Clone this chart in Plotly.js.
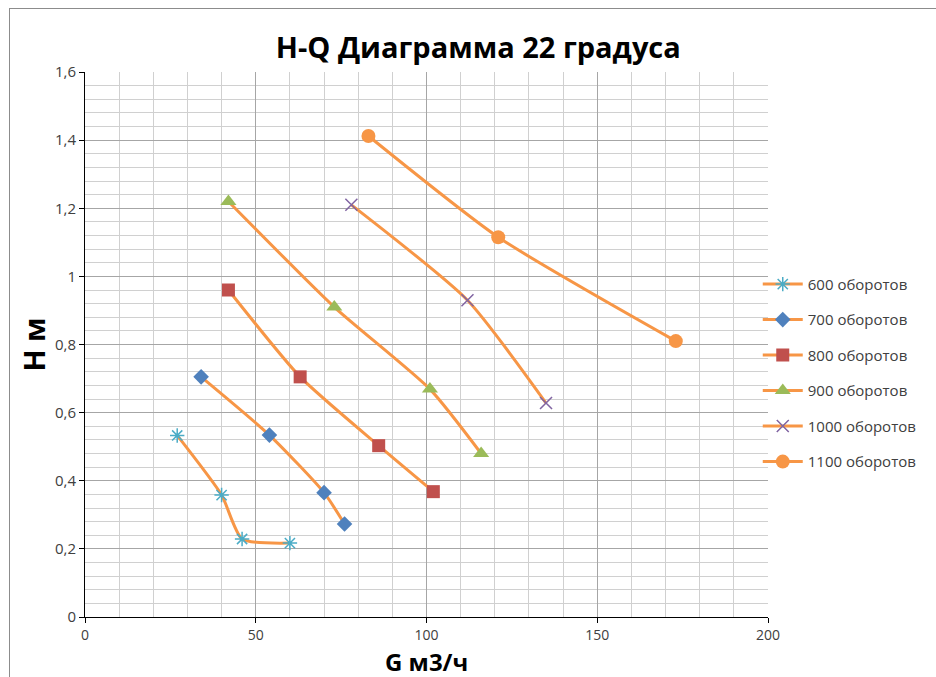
<!DOCTYPE html>
<html><head><meta charset="utf-8">
<script src="https://cdn.plot.ly/plotly-3.0.1.min.js"></script>
<style>
html,body{margin:0;padding:0;background:#fff;}
#wrap{position:relative;width:936px;height:677px;overflow:hidden;}
#frame{position:absolute;left:9px;top:8px;width:1000px;height:1000px;border:1px solid #8c8c8c;box-sizing:border-box;pointer-events:none;}
#chart{position:absolute;left:0;top:0;width:936px;height:677px;}
</style></head>
<body><div id="wrap"><div id="chart"></div><div id="frame"></div></div>
<script>
const seriesNames = ["600 оборотов","700 оборотов","800 оборотов","900 оборотов","1000 оборотов","1100 оборотов"];
const g600 = [27, 40, 46, 60];
const h600 = [0.533, 0.358, 0.229, 0.217];
const g700 = [34, 54, 70, 76];
const h700 = [0.705, 0.534, 0.365, 0.273];
const g800 = [42, 63, 86, 102];
const h800 = [0.96, 0.705, 0.503, 0.368];
const g900 = [42, 73, 101, 116];
const h900 = [1.22, 0.91, 0.669, 0.48];
const g1000 = [78, 112, 135];
const h1000 = [1.21, 0.93, 0.628];
const g1100 = [83, 121, 173];
const h1100 = [1.412, 1.115, 0.81];
const xTicks = [0, 50, 100, 150, 200];
const yTicks = [0, 0.2, 0.4, 0.6, 0.8, 1, 1.2, 1.4, 1.6];
const yTickText = ["0","0,2","0,4","0,6","0,8","1","1,2","1,4","1,6"];
const xTitle = "G м3/ч";

const gs = [g600,g700,g800,g900,g1000,g1100];
const hs = [h600,h700,h800,h900,h1000,h1100];
const markers = [
  {symbol:"asterisk-open", color:"#4BACC6", size:12, line:{width:1.5,color:"#4BACC6"}},
  {symbol:"diamond", color:"#4F81BD", size:12, line:{width:0}},
  {symbol:"square", color:"#C0504D", size:13, line:{width:0}},
  {symbol:"triangle-up", color:"#9BBB59", size:14, line:{width:0}},
  {symbol:"x-thin-open", color:"#8064A2", size:12, line:{width:1.5,color:"#8064A2"}},
  {symbol:"circle", color:"#F79646", size:14, line:{width:0}}
];
const traces = gs.map((g,i)=>({
  x:g, y:hs[i], name:seriesNames[i], legendgroup:"g"+i, type:"scatter", mode:"lines+markers",
  line:{color:"#F79646", width:3, shape:"spline", smoothing:0.6},
  marker:markers[i]
}));

const layout = {
  width:936, height:677,
  margin:{l:85, r:168, t:72, b:60},
  paper_bgcolor:"#fff", plot_bgcolor:"#fff",
  separators:", ",
  font:{family:"Open Sans, DejaVu Sans, sans-serif", color:"#404040"},
  title:{text:"<b>H-Q Диаграмма 22 градуса</b>", font:{size:29, color:"#000", family:"Open Sans, sans-serif"}, x:0.511, xanchor:"center", y:0.93, yanchor:"middle"},
  xaxis:{range:[0,200], tickvals:xTicks, ticktext:xTicks.map(String), showline:true, linecolor:"#000", linewidth:1,
    ticks:"outside", ticklen:5, tickcolor:"#000", zeroline:false,
    showgrid:true, gridcolor:"#a6a6a6", gridwidth:1,
    minor:{dtick:10, showgrid:true, gridcolor:"#d0d0d0", gridwidth:1},
    tickfont:{size:14, color:"#404040"}},
  yaxis:{range:[0,1.6], tickvals:yTicks, ticktext:yTickText, showline:true, linecolor:"#000", linewidth:1,
    ticks:"outside", ticklen:5, tickcolor:"#000", zeroline:false,
    showgrid:true, gridcolor:"#a6a6a6", gridwidth:1,
    minor:{dtick:0.04, showgrid:true, gridcolor:"#d0d0d0", gridwidth:1},
    tickfont:{size:15, color:"#404040"},
    title:{text:"<b>H м</b>", font:{size:29, color:"#000"}, standoff:0}},
  annotations:[{text:"<b>"+xTitle+"</b>", xref:"paper", yref:"paper", x:0.5, y:0, xanchor:"center", yanchor:"top",
    yshift:-27, borderpad:0, showarrow:false, font:{size:24, color:"#000"}}],
  legend:{x:0.985, xanchor:"left", y:0.448, yanchor:"middle", xref:"paper", yref:"paper",
    font:{size:15, color:"#404040"}, tracegroupgap:13, itemwidth:40, bgcolor:"rgba(0,0,0,0)"},
  showlegend:true
};
Plotly.newPlot("chart", traces, layout, {displayModeBar:false, staticPlot:true});
</script></body></html>
